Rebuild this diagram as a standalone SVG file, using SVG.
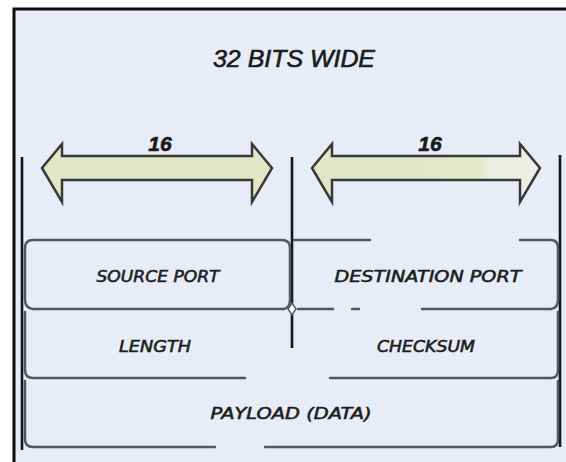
<svg xmlns="http://www.w3.org/2000/svg" width="566" height="462" viewBox="0 0 566 462">
<defs>
<style>
.title{font-family:"Liberation Sans",Arial,sans-serif;font-style:italic;fill:#1a1a1a;stroke:#1a1a1a;stroke-width:0.6}
.lbl{font-family:"DejaVu Sans","Liberation Sans",sans-serif;font-style:oblique;font-size:15px;fill:#1e1e1e;text-anchor:middle;stroke:#1e1e1e;stroke-width:0.55}
.row{fill:none;stroke:#55575c;stroke-width:2.5;stroke-linecap:round}
.vbar{stroke:#161616;stroke-width:2.6;fill:none}
.arrow{stroke:#383838;stroke-width:2.5;stroke-linejoin:miter}
</style>
<linearGradient id="rg" x1="0" y1="0" x2="1" y2="0">
<stop offset="0" stop-color="#e2e5c6"/>
<stop offset="0.74" stop-color="#e6e9c8"/>
<stop offset="0.78" stop-color="#eceee6"/>
<stop offset="1" stop-color="#eceee6"/>
</linearGradient>
</defs>
<rect x="0" y="0" width="566" height="462" fill="#ffffff"/>
<rect x="14" y="9" width="560" height="460" fill="#e7ecf6"/>
<path d="M14 462 V9 H566" fill="none" stroke="#0c0c0c" stroke-width="3"/>

<g id="title"><text class="title" x="294" y="67" font-size="24" text-anchor="middle" textLength="162" lengthAdjust="spacingAndGlyphs">32 BITS WIDE</text></g>

<g id="arrow-left">
<polygon class="arrow" fill="#e3e6c7" points="42,168 62,144 62,156 252,156 252,144 272,168 252,202 252,180 62,180 62,202"/>
<text class="title" x="160" y="151" font-size="21" font-weight="bold" text-anchor="middle">16</text>
</g>
<g id="arrow-right">
<polygon class="arrow" fill="url(#rg)" points="312,168 332,144 332,156 520,156 520,144 540,168 520,202 520,180 332,180 332,202"/>
<text class="title" x="430" y="151" font-size="21" font-weight="bold" text-anchor="middle">16</text>
</g>

<g id="connectors">
<line class="vbar" x1="22" y1="157" x2="22" y2="450"/>
<line class="vbar" x1="560" y1="155" x2="560" y2="447"/>
<line class="vbar" x1="292" y1="157" x2="292" y2="348" stroke-width="2"/>
</g>

<g id="source-port">
<path class="row" d="M33 240 H282 Q290 240 290 248 V300 Q290 308 284 309 H33 Q25 308 25 300 V248 Q25 240 33 240 Z"/>
<text class="lbl" x="158" y="282" textLength="123" lengthAdjust="spacingAndGlyphs">SOURCE PORT</text>
</g>

<g id="destination-port">
<path class="row" d="M294 240 H370 M520 240 H551 Q558 240 558 248 V300 Q558 308 551 309 H422 M359 309 H352 M333 309 H298"/>
<text class="lbl" x="428" y="282" textLength="187" lengthAdjust="spacingAndGlyphs">DESTINATION PORT</text>
</g>

<g id="diamond">
<polygon points="292,303 296,309 292,315 288,309" fill="#f4f6fa" stroke="#5a5c60" stroke-width="1.4"/>
</g>

<g id="length">
<path class="row" d="M25 312 V370 Q25 378 33 378 H245"/>
<text class="lbl" x="155" y="352" textLength="72" lengthAdjust="spacingAndGlyphs">LENGTH</text>
</g>

<g id="checksum">
<path class="row" d="M558 312 V370 Q558 378 551 378 H330"/>
<text class="lbl" x="426" y="352" textLength="98" lengthAdjust="spacingAndGlyphs">CHECKSUM</text>
</g>

<g id="payload">
<path class="row" d="M25 381 V439 Q25 447 33 447 H215 M265 447 H551 Q558 447 558 439 V381"/>
<text class="lbl" x="291" y="419" textLength="161" lengthAdjust="spacingAndGlyphs">PAYLOAD (DATA)</text>
</g>
</svg>
